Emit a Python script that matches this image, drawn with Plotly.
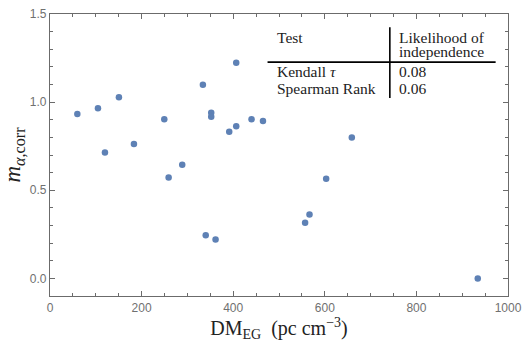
import plotly.graph_objects as go

dm_eg = [59.7, 104.7, 120, 150.5, 183.3, 249.5, 259, 288.7, 333.8, 340, 352, 352, 361.5,
         391.3, 406.6, 406.6, 440, 465, 557, 566.6, 603, 659, 934]
m_corr = [0.933, 0.965, 0.714, 1.027, 0.763, 0.903, 0.572, 0.644, 1.099, 0.244, 0.94, 0.917, 0.221,
          0.832, 1.223, 0.863, 0.903, 0.893, 0.315, 0.362, 0.565, 0.80, 0.0]

table_tests = ["Kendall <i>τ</i>", "Spearman Rank"]
table_values = ["0.08", "0.06"]

blue = "#5E81B5"
axis_col = "#6b6b6b"
serif = "Liberation Serif"

fig = go.Figure()
fig.add_trace(go.Scatter(x=dm_eg, y=m_corr, mode="markers",
                         marker=dict(color=blue, size=6.5, line=dict(width=0)),
                         showlegend=False))

axis_common = dict(showgrid=False, zeroline=False, showline=True, linecolor=axis_col, linewidth=1.3,
                   mirror="allticks", ticks="inside", ticklen=5, tickcolor=axis_col, tickwidth=1,
                   automargin=False,
                   tickfont=dict(family="Liberation Sans", size=12, color="#707070"))

fig.update_xaxes(range=[0, 1000], dtick=200, tick0=0,
                 minor=dict(dtick=50, ticks="inside", ticklen=3, tickcolor=axis_col, showgrid=False),
                 title=dict(text="DM<sub>EG</sub>&nbsp;&nbsp;(pc&nbsp;cm<sup>−3</sup>)",
                            font=dict(family=serif, size=20, color="#222"), standoff=0),
                 **axis_common)
fig.update_yaxes(range=[-0.1, 1.5], dtick=0.5, tick0=0, tickformat=".1f",
                 minor=dict(dtick=0.1, ticks="inside", ticklen=3, tickcolor=axis_col, showgrid=False),
                 title=dict(text="<i>m</i><sub><i>α</i>,corr</sub>",
                            font=dict(family=serif, size=23, color="#222"), standoff=4),
                 **axis_common)

# table
line_style = dict(color="black", width=1.6)
fig.add_shape(type="line", x0=475, x1=973, y0=1.227, y1=1.227, line=line_style)
fig.add_shape(type="line", x0=742, x1=742, y0=1.425, y1=1.023, line=line_style)

tfont = dict(family=serif, size=15.5, color="#222")
def txt(x, y, s):
    fig.add_annotation(x=x, y=y, text=s, showarrow=False, xanchor="left", yanchor="middle", font=tfont)

txt(492, 1.369, "Test")
txt(758, 1.369, "Likelihood of")
txt(758, 1.289, "independence")
for i, (t, v) in enumerate(zip(table_tests, table_values)):
    yy = 1.176 - i * 0.096
    txt(492, yy, t)
    txt(758, yy, v)

fig.update_layout(width=524, height=343, margin=dict(l=50, r=16, t=14, b=47),
                  plot_bgcolor="white", paper_bgcolor="white")
fig.write_html("out.html")
